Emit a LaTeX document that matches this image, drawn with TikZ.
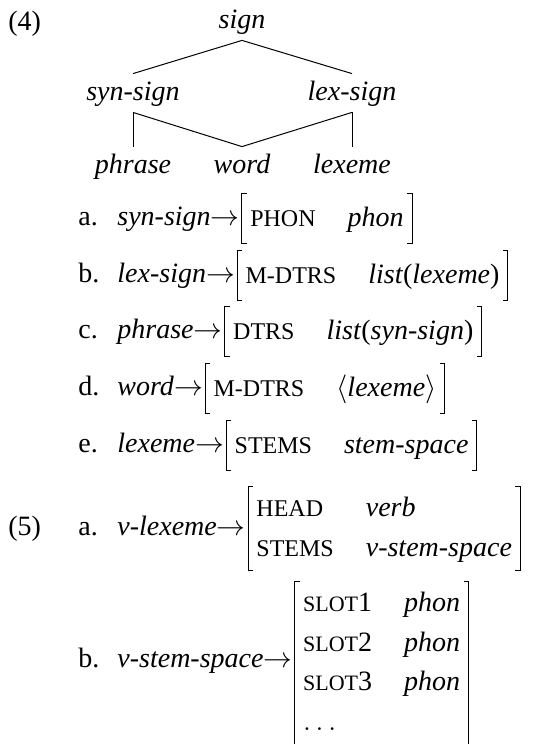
\documentclass[tikz,border=0pt]{standalone}
\usepackage{fontspec}
\setmainfont{Liberation Serif}
\usetikzlibrary{positioning}

\renewcommand\arraystretch{1.17}
\newcommand\feat[1]{{\fontsize{12}{14}\selectfont #1}}
\newcommand\featsc[2]{{\fontsize{11}{13}\selectfont #1}#2}
\newcommand\avmbrackets[1]{%
  \draw[bracket] ([xshift=2.5pt]#1.north west) -- (#1.north west) -- (#1.south west) -- ([xshift=2.5pt]#1.south west);
  \draw[bracket] ([xshift=-2.5pt]#1.north east) -- (#1.north east) -- (#1.south east) -- ([xshift=-2.5pt]#1.south east);}

\begin{document}
\begin{tikzpicture}[x=0.5pt,y=-0.5pt,font=\fontsize{14}{17}\selectfont,
  type/.style={font=\fontsize{14}{17}\selectfont\itshape,text height=10pt,text depth=3pt,inner ysep=3pt,inner xsep=0pt},
  num/.style={anchor=base west,inner sep=0pt},
  lhs/.style={anchor=base west,inner sep=0pt,text height=10pt,text depth=3.5pt},
  avm/.style={inner xsep=4pt,inner ysep=1pt,minimum height=24.5pt},
  bracket/.style={line width=0.5pt},
  edge/.style={line width=0.5pt}]
  \useasboundingbox (0,0) rectangle (535,744);

  % (4) type hierarchy
  \node[num] (ex4) at (8,30) {(4)};
  \node[type,anchor=base] (sign) at (242,28) {sign};
  \node[type,anchor=base] (synsign) at (133,100) {syn-sign};
  \node[type,anchor=base] (lexsign) at (352,100) {lex-sign};
  \node[type,anchor=base] (phrase) at (133,173) {phrase};
  \node[type,anchor=base] (word) at (242,173) {word};
  \node[type,anchor=base] (lexeme) at (352,173) {lexeme};
  \draw[edge] (sign.south) -- (synsign.north);
  \draw[edge] (sign.south) -- (lexsign.north);
  \draw[edge] (synsign.south) -- (phrase.north);
  \draw[edge] (synsign.south) -- (word.north);
  \draw[edge] (lexsign.south) -- (word.north);
  \draw[edge] (lexsign.south) -- (lexeme.north);

  % constraints a--e
  \node[num] (la) at (78,225) {a.};
  \node[lhs] (ra) at (117,225) {\textit{syn-sign}$\rightarrow$};
  \node[avm,right=1pt of ra] (fa) {\begin{tabular}{@{}l@{\hspace{16pt}}l@{}}\feat{PHON} & \textit{phon}\end{tabular}};
  \avmbrackets{fa}

  \node[num] (lb) at (78,282) {b.};
  \node[lhs] (rb) at (117,282) {\textit{lex-sign}$\rightarrow$};
  \node[avm,right=1pt of rb] (fb) {\begin{tabular}{@{}l@{\hspace{16pt}}l@{}}\feat{M-DTRS} & \textit{list}(\textit{lexeme})\end{tabular}};
  \avmbrackets{fb}

  \node[num] (lc) at (78,338) {c.};
  \node[lhs] (rc) at (117,338) {\textit{phrase}$\rightarrow$};
  \node[avm,right=1pt of rc] (fc) {\begin{tabular}{@{}l@{\hspace{16pt}}l@{}}\feat{DTRS} & \textit{list}(\textit{syn-sign})\end{tabular}};
  \avmbrackets{fc}

  \node[num] (ld) at (78,395) {d.};
  \node[lhs] (rd) at (117,395) {\textit{word}$\rightarrow$};
  \node[avm,right=1pt of rd] (fd) {\begin{tabular}{@{}l@{\hspace{16pt}}l@{}}\feat{M-DTRS} & $\langle$\textit{lexeme}$\rangle$\end{tabular}};
  \avmbrackets{fd}

  \node[num] (le) at (78,452) {e.};
  \node[lhs] (re) at (117,452) {\textit{lexeme}$\rightarrow$};
  \node[avm,right=1pt of re] (fe) {\begin{tabular}{@{}l@{\hspace{16pt}}l@{}}\feat{STEMS} & \textit{stem-space}\end{tabular}};
  \avmbrackets{fe}

  % (5) verb lexemes
  \node[num] (ex5) at (8,535) {(5)};
  \node[num] (l5a) at (78,535) {a.};
  \node[lhs] (r5a) at (117,535) {\textit{v-lexeme}$\rightarrow$};
  \node[avm,right=1pt of r5a] (f5a) {\begin{tabular}{@{}l@{\hspace{16pt}}l@{}}\feat{HEAD} & \textit{verb}\\ \feat{STEMS} & \textit{v-stem-space}\end{tabular}};
  \avmbrackets{f5a}

  \node[num] (l5b) at (78,667) {b.};
  \node[lhs] (r5b) at (117,667) {\textit{v-stem-space}$\rightarrow$};
  \node[avm,right=1pt of r5b,yshift=-1.25pt] (f5b) {\begin{tabular}{@{}l@{\hspace{16pt}}l@{}}\featsc{SLOT}{1} & \textit{phon}\\ \featsc{SLOT}{2} & \textit{phon}\\ \featsc{SLOT}{3} & \textit{phon}\\ $\ldots$ & \end{tabular}};
  \avmbrackets{f5b}
\end{tikzpicture}
\end{document}
